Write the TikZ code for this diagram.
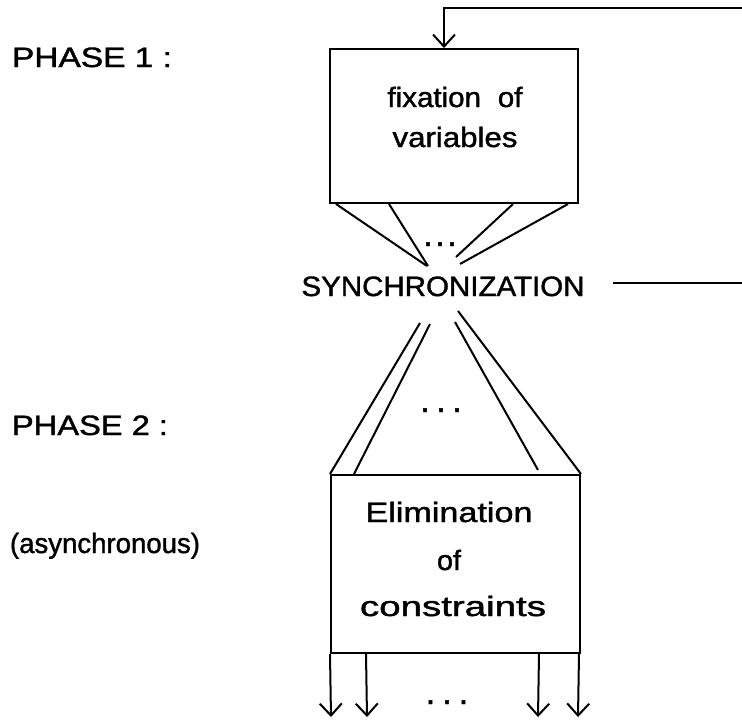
\documentclass[tikz,border=0pt]{standalone}
\usepackage{fontspec}
\setmainfont[FakeBold=1.3]{Liberation Sans}
\usepackage{graphicx}
\usetikzlibrary{arrows.meta,calc}
\newcommand\wfit[2]{\resizebox{#1pt}{\height}{#2}}
\begin{document}
\begin{tikzpicture}[x=1pt,y=-1pt,
  ln/.style={line width=2pt},
  box/.style={draw,line width=2pt,inner sep=0pt},
  txt/.style={anchor=base,inner sep=0pt,font=\fontsize{28}{32}\selectfont},
  dots/.style={anchor=base,inner sep=0pt,font=\fontsize{34}{40}\selectfont},
  arr/.style={line width=2pt,-{Straight Barb[length=12pt,width=22pt]}}]
\useasboundingbox (0,0) rectangle (742,724);
\fill[white] (0,0) rectangle (742,724);

% boxes
\node[box,minimum width=248pt,minimum height=154pt] (top) at (454,126) {};
\node[box,minimum width=249pt,minimum height=178pt] (bot) at (455.5,564) {};

% texts
\node[txt] (p1) at (92,67) {\wfit{160}{PHASE 1 :}};
\node[txt] (p2) at (90,435) {\wfit{156}{PHASE 2 :}};
\node[txt] (asy) at (105,553) {\wfit{190}{(asynchronous)}};
\node[txt] (fix) at (455,107) {\wfit{135}{fixation\hspace{16pt}of}};
\node[txt] (var) at (455,147) {\wfit{125}{variables}};
\node[txt] (eli) at (449,522) {\wfit{167}{Elimination}};
\node[txt] (of2) at (449,570) {\wfit{24}{of}};
\node[txt] (con) at (453,616) {\wfit{186}{constraints}};
\node[txt] (sync) at (443,296) {\wfit{283}{SYNCHRONIZATION}};

% dots
\node[dots] (d1) at (440,246) {.\hspace{2.5pt}.\hspace{2.5pt}.};
\node[dots] (d2) at (441,412) {.\hspace{6.5pt}.\hspace{6.5pt}.};
\node[dots] (d3) at (447,704) {.\hspace{7pt}.\hspace{7pt}.};

% feedback
\coordinate (fbR) at (742,8);
\draw[arr] (fbR) -| ($(top.north)+(-10,0)$);
\coordinate (syL) at (613,283);
\coordinate (syR) at (742,283);
\draw[ln] (syL) -- (syR);

% top fan
\coordinate (a1) at (427,266);
\coordinate (a2) at (428,266);
\coordinate (a3) at (456,257);
\coordinate (a4) at (460,264);
\draw[ln] ($(top.south west)+(7,0)$) -- (a1);
\draw[ln] ($(top.south west)+(60,0)$) -- (a2);
\draw[ln] ($(top.south east)+(-66,0)$) -- (a3);
\draw[ln] ($(top.south east)+(-11,0)$) -- (a4);

% bottom fan
\coordinate (b1) at (420,323);
\coordinate (b2) at (430,324);
\coordinate (b3) at (455,322);
\coordinate (b4) at (458,311);
\draw[ln] (b1) -- (bot.north west);
\draw[ln] (b2) -- ($(bot.north west)+(24,0)$);
\draw[ln] (b3) -- ($(bot.north east)+(-43,-4)$);
\draw[ln] (b4) -- (bot.north east);

% outputs
\coordinate (o1) at (331,717);
\coordinate (o2) at (367,717);
\coordinate (o3) at (538,717);
\coordinate (o4) at (578,717);
\draw[arr] (bot.south west) -- (o1);
\draw[arr] ($(bot.south west)+(36,0)$) -- (o2);
\draw[arr] ($(bot.south east)+(-42,0)$) -- (o3);
\draw[arr] ($(bot.south east)+(-2,0)$) -- (o4);
\end{tikzpicture}
\end{document}
